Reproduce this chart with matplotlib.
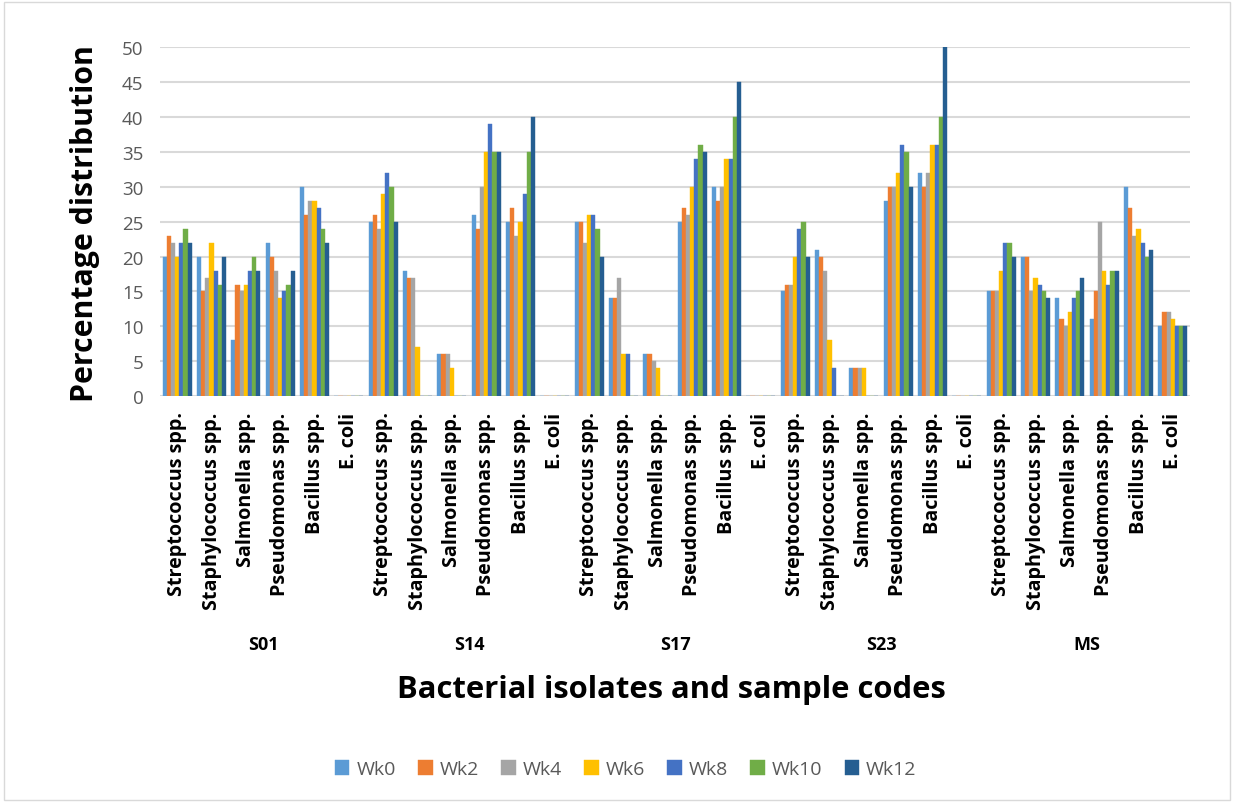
import numpy as np
import matplotlib
matplotlib.use("Agg")
import matplotlib.pyplot as plt
from matplotlib.patches import Rectangle

groups = ["S01", "S14", "S17", "S23", "MS"]
isolates = ["Streptococcus spp.", "Staphylococcus spp.", "Salmonella spp.",
            "Pseudomonas spp.", "Bacillus spp.", "E. coli"]
weeks = ["Wk0", "Wk2", "Wk4", "Wk6", "Wk8", "Wk10", "Wk12"]
colors = ["#5B9BD5", "#ED7D31", "#A5A5A5", "#FFC000", "#4472C4", "#70AD47", "#255E91"]

# values per week, ordered group-by-group (S01, S14, S17, S23, MS), isolate order as above
wk0 = [20, 20, 8, 22, 30, 0,   25, 18, 6, 26, 25, 0,   25, 14, 6, 25, 30, 0,   15, 21, 4, 28, 32, 0,   15, 20, 14, 11, 30, 10]
wk2 = [23, 15, 16, 20, 26, 0,  26, 17, 6, 24, 27, 0,   25, 14, 6, 27, 28, 0,   16, 20, 4, 30, 30, 0,   15, 20, 11, 15, 27, 12]
wk4 = [22, 17, 15, 18, 28, 0,  24, 17, 6, 30, 23, 0,   22, 17, 5, 26, 30, 0,   16, 18, 4, 30, 32, 0,   15, 15, 10, 25, 23, 12]
wk6 = [20, 22, 16, 14, 28, 0,  29, 7, 4, 35, 25, 0,    26, 6, 4, 30, 34, 0,    20, 8, 4, 32, 36, 0,    18, 17, 12, 18, 24, 11]
wk8 = [22, 18, 18, 15, 27, 0,  32, 0, 0, 39, 29, 0,    26, 6, 0, 34, 34, 0,    24, 4, 0, 36, 36, 0,    22, 16, 14, 16, 22, 10]
wk10 = [24, 16, 20, 16, 24, 0, 30, 0, 0, 35, 35, 0,    24, 0, 0, 36, 40, 0,    25, 0, 0, 35, 40, 0,    22, 15, 15, 18, 20, 10]
wk12 = [22, 20, 18, 18, 22, 0, 25, 0, 0, 35, 40, 0,    20, 0, 0, 35, 45, 0,    20, 0, 0, 30, 50, 0,    20, 14, 17, 18, 21, 10]
series = [wk0, wk2, wk4, wk6, wk8, wk10, wk12]

plt.rcParams['font.family'] = ['Open Sans', 'DejaVu Sans']

fig = plt.figure(figsize=(12.34, 8.04), dpi=100)
fig.patches.append(Rectangle((0.003, 0.004), 0.994, 0.992, transform=fig.transFigure,
                             fill=False, edgecolor="#D9D9D9", linewidth=1.0))
ax = fig.add_axes([0.1297, 0.506, 0.8347, 0.434])

n_cat = len(groups) * len(isolates)
x = np.arange(n_cat)
group_w = 0.85
bw = group_w / len(weeks)
for i, (wk, vals, c) in enumerate(zip(weeks, series, colors)):
    offs = -group_w / 2 + bw * (i + 0.5)
    ax.bar(x + offs, vals, width=bw, color=c, label=wk, edgecolor=c, linewidth=0.3, zorder=3)

ax.set_xlim(-0.5, n_cat - 0.5)
ax.set_ylim(0, 50)
ax.set_yticks(np.arange(0, 51, 5))
ax.yaxis.grid(True, color="#D9D9D9", linewidth=1.5, zorder=0)
for s in ax.spines.values():
    s.set_visible(False)
ax.tick_params(axis="y", length=0, pad=12, labelsize=13.5, labelcolor="#595959")
ax.tick_params(axis="x", length=0, pad=11)
ax.set_xticks(x)
ax.set_xticklabels(isolates * len(groups), rotation=90, fontsize=14.2, fontweight="bold",
                   va="top", ha="center")

for gi, g in enumerate(groups):
    cx = gi * len(isolates) + (len(isolates) - 1) / 2
    ax.text(cx, -0.71, g, transform=ax.get_xaxis_transform(), ha="center", va="center",
            fontsize=13, fontweight="bold")

fig.text(0.544, 0.142, "Bacterial isolates and sample codes", ha="center", va="center",
         fontsize=22.3, fontweight="bold")
fig.text(0.069, 0.722, "Percentage distribution", rotation=90, ha="center", va="center",
         fontsize=21.8, fontweight="bold")

leg = fig.legend(loc="center", bbox_to_anchor=(0.507, 0.042), ncol=7, frameon=False,
                 fontsize=14, handlelength=0.75, handleheight=0.75, handletextpad=0.35,
                 columnspacing=1.15)
for t in leg.get_texts():
    t.set_color("#595959")

fig.savefig("out.png", dpi=100)
